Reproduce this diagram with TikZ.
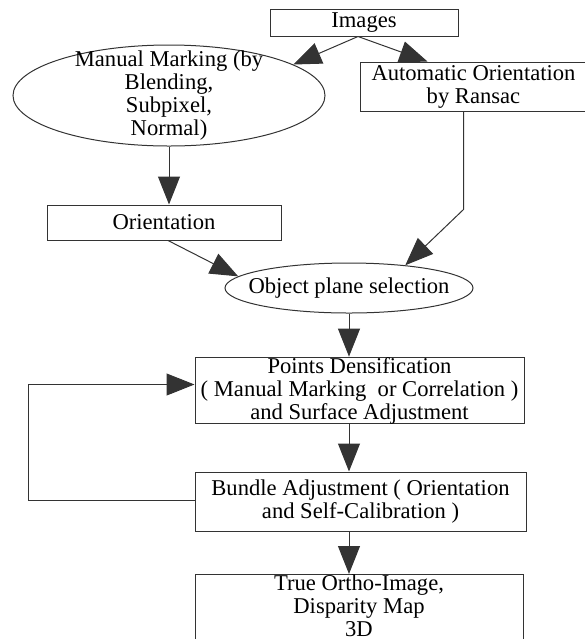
\documentclass[tikz,border=0pt]{standalone}
\usepackage{fontspec}
\setmainfont{Liberation Serif}
\usetikzlibrary{shapes.geometric, arrows.meta}

\begin{document}
\begin{tikzpicture}[
            x=0.5pt, y=-0.5pt,
            font=\fontsize{11.3pt}{11.5pt}\selectfont,
            every node/.style={align=center, inner sep=0pt},
            box/.style={rectangle, draw=black!80, line width=0.5pt},
            oval/.style={ellipse, draw=black!80, line width=0.5pt},
            arr/.style={draw=black!80, line width=0.5pt, -{Triangle[length=14pt, width=11pt]}}
        ]
            \useasboundingbox (0, 0) rectangle (585, 639);

            \node[box, minimum width=94pt, minimum height=13.5pt] (images) at (364, 22.5) {Images};
            \node[oval, minimum width=156pt, minimum height=50.5pt,
                label={[align=center]center:{Manual Marking (by\\Blending,\\Subpixel,\\Normal)}}]
                (manual) at (169, 95.5) {};
            \node[box, minimum width=113.5pt, minimum height=24.5pt] (auto) at (473.5, 86.5)
                {Automatic Orientation\\by Ransac};
            \node[box, minimum width=117pt, minimum height=17.5pt] (orient) at (164, 222.5) {Orientation};
            \node[oval, minimum width=124pt, minimum height=25pt,
                label={center:{Object plane selection}}]
                (objplane) at (349, 288) {};
            \node[box, minimum width=164.5pt, minimum height=32.5pt] (points) at (359.5, 390.5)
                {Points Densification\\( Manual Marking~ or Correlation )\\and Surface Adjustment};
            \node[box, minimum width=165.5pt, minimum height=29.5pt] (bundle) at (360.5, 501.5)
                {Bundle Adjustment ( Orientation\\and Self-Calibration )};
            \node[box, minimum width=164pt, minimum height=36pt,
                label={[align=center, yshift=2.5pt]center:{True Ortho-Image,\\Disparity Map\\3D}}]
                (result) at (359, 610.5) {};

            \draw[arr] ([xshift=-3pt]images.south) -- (manual.14);
            \draw[arr] ([xshift=-3pt]images.south) -- ([xshift=34pt]auto.north west);
            \draw[arr] (manual.south) -- (manual.south |- orient.north);
            \draw[arr] ([xshift=2pt]orient.south) -- (objplane.174);
            \draw[arr] ([xshift=-5pt]auto.south) -- ++(0, 98) -- (objplane.22);
            \draw[arr] (objplane.south) -- (objplane.south |- points.north);
            \draw[arr] (points.south -| objplane.south) -- (bundle.north -| objplane.south);
            \draw[arr] (bundle.south -| objplane.south) -- (result.north -| objplane.south);
            \draw[arr] ([yshift=0.75pt]bundle.west) -- ++(-166, 0) |- ([yshift=3pt]points.west);
        \end{tikzpicture}
\end{document}
